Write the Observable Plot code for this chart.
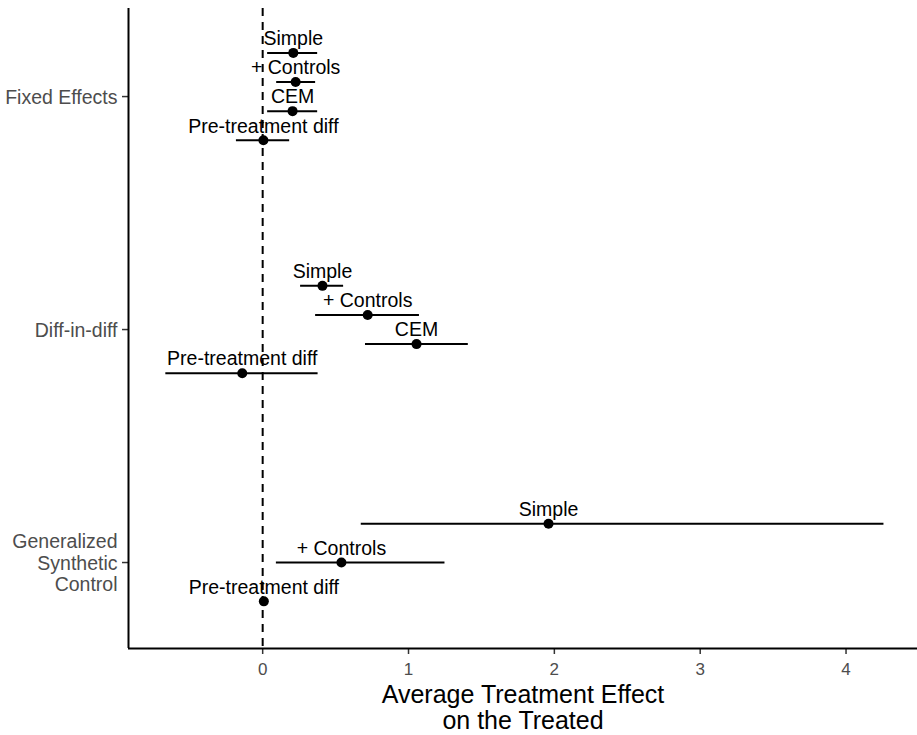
<!DOCTYPE html>
<html><head><meta charset="utf-8">
<script src="https://cdn.jsdelivr.net/npm/d3@7"></script>
<script src="https://cdn.jsdelivr.net/npm/@observablehq/plot@0.6"></script>
<style>body{margin:0;background:#fff}</style>
</head><body><div id="chart"></div>
<script>
// Model groups (top to bottom) and their axis labels
const models = ["Fixed Effects", "Diff-in-diff", "Generalized Synthetic Control"];
const modelTickLabels = ["Fixed Effects", "Diff-in-diff", "Generalized\nSynthetic\nControl"];

// Estimates
const estModel = [
  "Fixed Effects", "Fixed Effects", "Fixed Effects", "Fixed Effects",
  "Diff-in-diff", "Diff-in-diff", "Diff-in-diff", "Diff-in-diff",
  "Generalized Synthetic Control", "Generalized Synthetic Control", "Generalized Synthetic Control"
];
const estSpec = [
  "Simple", "+ Controls", "CEM", "Pre-treatment diff",
  "Simple", "+ Controls", "CEM", "Pre-treatment diff",
  "Simple", "+ Controls", "Pre-treatment diff"
];
const estimate = [0.21, 0.226, 0.205, 0.005, 0.41, 0.72, 1.055, -0.14, 1.96, 0.54, 0.008];
const ciLow    = [0.034, 0.096, 0.034, -0.18, 0.26, 0.363, 0.705, -0.664, 0.676, 0.094, -0.02];
const ciHigh   = [0.377, 0.363, 0.377, 0.185, 0.555, 1.075, 1.41, 0.38, 4.26, 1.25, 0.04];

const xTicks = [0, 1, 2, 3, 4];
const xTitle = "Average Treatment Effect\non the Treated";

// Build rows with dodged positions within each model group
const rows = estModel.map((m, i) => ({model: m, spec: estSpec[i], est: estimate[i], lo: ciLow[i], hi: ciHigh[i]}));
const dodgeWidth = 0.5;
models.forEach((m, gi) => {
  const grp = rows.filter(r => r.model === m);
  const n = grp.length;
  grp.forEach((r, j) => { r.pos = gi + (j - (n - 1) / 2) * (dodgeWidth / n); });
});

const xDomain = [-0.92, 4.49];
const yDomain = [2.369, -0.378];

const chart = Plot.plot({
  width: 917,
  height: 735,
  marginLeft: 128,
  marginRight: 0,
  marginTop: 8,
  marginBottom: 87,
  style: {fontFamily: "'Liberation Sans', Arial, sans-serif", background: "#fff"},
  x: {domain: xDomain},
  y: {domain: yDomain},
  marks: [
    Plot.ruleX([0], {stroke: "black", strokeWidth: 2, strokeDasharray: "8,6"}),
    Plot.ruleY(rows, {y: "pos", x1: "lo", x2: "hi", stroke: "black", strokeWidth: 2}),
    Plot.dot(rows, {x: "est", y: "pos", r: 5, fill: "black", stroke: "none"}),
    Plot.text(rows, {x: "est", y: "pos", text: "spec", dy: -14, fontSize: 19.5, fill: "black"}),
    Plot.axisX({ticks: xTicks, tickFormat: d => String(d), tickSize: 6, tickPadding: 8, fontSize: 17, stroke: "#333", fill: "#4d4d4d", label: null, strokeWidth: 1.5}),
    Plot.axisY({ticks: [0, 1, 2], tickFormat: i => modelTickLabels[i], tickSize: 6, tickPadding: 5, fontSize: 19.5, stroke: "#333", fill: "#4d4d4d", label: null, lineHeight: 1.12, strokeWidth: 1.5}),
    Plot.ruleX([xDomain[0]], {stroke: "black", strokeWidth: 2}),
    Plot.ruleY([yDomain[0]], {stroke: "black", strokeWidth: 2}),
    Plot.text([xTitle], {text: d => d, frameAnchor: "bottom", lineAnchor: "top", dy: 36, fontSize: 25, lineHeight: 1.04, fill: "black"})
  ]
});
document.getElementById("chart").appendChild(chart);
</script>
</body></html>
